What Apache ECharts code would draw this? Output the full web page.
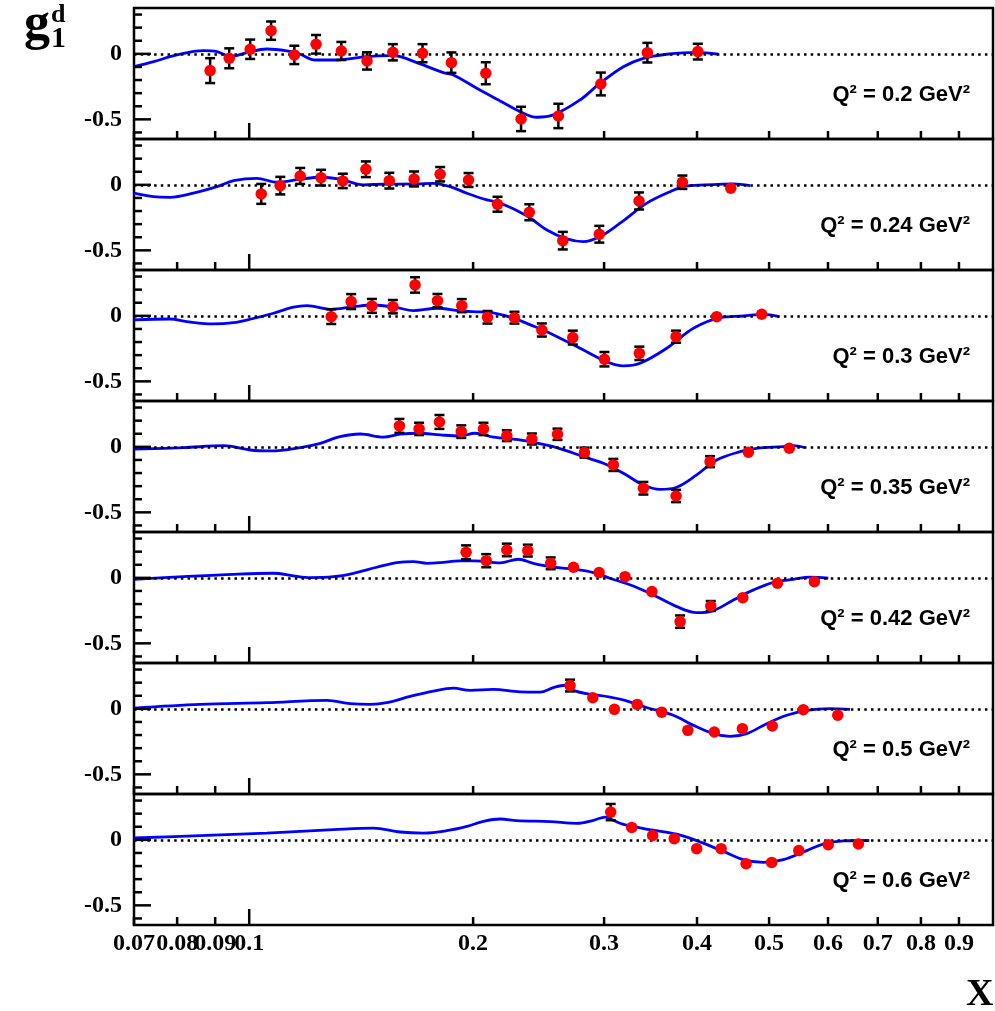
<!DOCTYPE html>
<html>
<head>
<meta charset="utf-8">
<script src="https://cdn.jsdelivr.net/npm/echarts@6/dist/echarts.min.js"></script>
<style>
html,body{margin:0;padding:0;background:#fff;}
#chart{width:995px;height:1011px;}
</style>
</head>
<body>
<div id="chart"></div>
<script>
// ---------- axis / tick definitions ----------
const X_MIN = 0.07, X_MAX = 1.0, Y_MIN = -0.65, Y_MAX = 0.35;
const X_TICKS = [0.07, 0.08, 0.09, 0.1, 0.2, 0.3, 0.4, 0.5, 0.6, 0.7, 0.8, 0.9];
const X_TICK_LABELS = ['0.07', '0.08', '0.09', '0.1', '0.2', '0.3', '0.4', '0.5', '0.6', '0.7', '0.8', '0.9'];
const X_MAJOR = [0.1];
const Y_TICKS = [-0.6, -0.5, -0.4, -0.3, -0.2, -0.1, 0, 0.1, 0.2, 0.3];
const Y_MAJOR = [0, -0.5];
const Q2_LABELS = ['0.2', '0.24', '0.3', '0.35', '0.42', '0.5', '0.6'];

// ---------- panel 1 : Q2 = 0.2 ----------
const p1X = [0.0886, 0.0940, 0.1003, 0.1070, 0.1150, 0.1230, 0.1330, 0.1440, 0.1560, 0.1710, 0.1870, 0.2080, 0.2320, 0.2604, 0.2970, 0.3430, 0.4010];
const p1Y = [-0.128, -0.034, 0.035, 0.177, -0.008, 0.073, 0.022, -0.054, 0.012, 0.005, -0.067, -0.148, -0.497, -0.474, -0.230, 0.009, 0.017];
const p1E = [0.095, 0.076, 0.074, 0.070, 0.070, 0.071, 0.069, 0.066, 0.062, 0.069, 0.078, 0.084, 0.093, 0.093, 0.087, 0.075, 0.060];
const c1X = [0.07, 0.0744, 0.0799, 0.0868, 0.0905, 0.0943, 0.0993, 0.1056, 0.1124, 0.1171, 0.1227, 0.1312, 0.1439, 0.1547, 0.1596, 0.1698, 0.1824, 0.1882, 0.2023, 0.2175, 0.2313, 0.2435, 0.2564, 0.2785, 0.2963, 0.3185, 0.3388, 0.3642, 0.3996, 0.4272];
const c1Y = [-0.097, -0.060, -0.008, 0.024, 0.017, -0.021, 0.009, 0.037, 0.022, -0.003, -0.047, -0.047, -0.021, -0.014, -0.021, -0.077, -0.143, -0.161, -0.263, -0.360, -0.441, -0.484, -0.466, -0.352, -0.224, -0.098, -0.034, -0.003, 0.012, -0.003];

// ---------- panel 2 : Q2 = 0.24 ----------
const p2X = [0.1038, 0.1101, 0.1171, 0.1249, 0.1336, 0.1435, 0.1543, 0.1666, 0.1806, 0.1972, 0.2157, 0.2380, 0.2640, 0.2956, 0.3343, 0.3823, 0.4441];
const p2Y = [-0.069, -0.006, 0.068, 0.055, 0.030, 0.119, 0.032, 0.045, 0.081, 0.037, -0.148, -0.209, -0.426, -0.377, -0.123, 0.020, -0.026];
const p2E = [0.076, 0.067, 0.061, 0.060, 0.055, 0.060, 0.060, 0.057, 0.055, 0.053, 0.057, 0.061, 0.067, 0.064, 0.065, 0.051, 0];
const c2X = [0.07, 0.0744, 0.0783, 0.0841, 0.0905, 0.0953, 0.1024, 0.1089, 0.1171, 0.1246, 0.1325, 0.1424, 0.1515, 0.1680, 0.1769, 0.1863, 0.1962, 0.2087, 0.2175, 0.2361, 0.2513, 0.2674, 0.2813, 0.2963, 0.3152, 0.3424, 0.3680, 0.3876, 0.4208, 0.4477, 0.4715];
const c2Y = [-0.064, -0.090, -0.095, -0.064, -0.014, 0.032, 0.050, 0.020, 0.043, 0.058, 0.043, 0.000, 0.005, 0.007, 0.012, -0.014, -0.064, -0.115, -0.138, -0.236, -0.344, -0.413, -0.434, -0.395, -0.293, -0.140, -0.052, -0.008, 0.002, 0.007, -0.006];

// ---------- panel 3 : Q2 = 0.3 ----------
const p3X = [0.1289, 0.1371, 0.1462, 0.1560, 0.1671, 0.1791, 0.1931, 0.2091, 0.2273, 0.2474, 0.2723, 0.3003, 0.3346, 0.3749, 0.4251, 0.4887];
const p3Y = [-0.006, 0.109, 0.076, 0.070, 0.236, 0.116, 0.078, -0.011, -0.014, -0.108, -0.166, -0.331, -0.286, -0.159, -0.006, 0.012];
const p3E = [0.056, 0.057, 0.053, 0.051, 0.059, 0.051, 0.050, 0.048, 0.045, 0.050, 0.053, 0.055, 0.051, 0.046, 0, 0];
const c3X = [0.07, 0.0783, 0.0824, 0.0895, 0.0953, 0.1003, 0.1078, 0.1147, 0.1196, 0.1285, 0.1381, 0.1469, 0.1579, 0.1662, 0.1788, 0.1921, 0.2044, 0.2121, 0.2266, 0.2389, 0.2513, 0.2785, 0.3025, 0.3185, 0.3353, 0.3642, 0.3956, 0.4296, 0.4618, 0.4912, 0.5160];
const c3Y = [-0.031, -0.024, -0.044, -0.062, -0.052, -0.026, 0.020, 0.066, 0.078, 0.050, 0.070, 0.083, 0.063, 0.040, 0.058, 0.037, 0.030, 0.024, -0.018, -0.069, -0.121, -0.247, -0.350, -0.382, -0.362, -0.247, -0.095, -0.014, -0.001, 0.012, -0.006];

// ---------- panel 4 : Q2 = 0.35 ----------
const p4X = [0.1592, 0.1692, 0.1802, 0.1928, 0.2065, 0.2220, 0.2399, 0.2597, 0.2823, 0.3087, 0.3388, 0.3749, 0.4165, 0.4690, 0.5323];
const p4Y = [0.160, 0.137, 0.190, 0.116, 0.137, 0.085, 0.060, 0.096, -0.044, -0.138, -0.316, -0.375, -0.113, -0.041, -0.011];
const p4E = [0.053, 0.047, 0.053, 0.048, 0.047, 0.041, 0.042, 0.043, 0.038, 0.046, 0.048, 0.047, 0.042, 0, 0];
const c4X = [0.07, 0.0816, 0.0924, 0.1003, 0.1067, 0.1171, 0.1246, 0.1325, 0.1410, 0.1515, 0.1596, 0.1690, 0.1806, 0.1921, 0.2012, 0.2130, 0.2320, 0.2539, 0.2674, 0.2813, 0.2994, 0.3185, 0.3388, 0.3567, 0.3757, 0.3996, 0.4251, 0.4570, 0.4813, 0.5225, 0.5390, 0.5587];
const c4Y = [-0.018, -0.006, 0.009, -0.024, -0.031, -0.006, 0.027, 0.078, 0.098, 0.075, 0.097, 0.104, 0.091, 0.083, 0.104, 0.074, 0.052, 0.007, -0.031, -0.075, -0.125, -0.202, -0.291, -0.324, -0.308, -0.214, -0.100, -0.037, -0.011, 0.002, 0.009, -0.006];

// ---------- panel 5 : Q2 = 0.42 ----------
const p5X = [0.1957, 0.2083, 0.2220, 0.2369, 0.2543, 0.2729, 0.2954, 0.3201, 0.3478, 0.3796, 0.4174, 0.4609, 0.5131, 0.5752];
const p5Y = [0.195, 0.131, 0.213, 0.208, 0.111, 0.081, 0.040, 0.009, -0.105, -0.334, -0.215, -0.151, -0.041, -0.029];
const p5E = [0.053, 0.050, 0.048, 0.045, 0.045, 0, 0, 0, 0, 0.047, 0.038, 0, 0, 0];
const c5X = [0.07, 0.0816, 0.0953, 0.1078, 0.1147, 0.1208, 0.1298, 0.1381, 0.1484, 0.1579, 0.1662, 0.1733, 0.1806, 0.1921, 0.2012, 0.2175, 0.2300, 0.2410, 0.2539, 0.2729, 0.2903, 0.3055, 0.3284, 0.3495, 0.3757, 0.3996, 0.4208, 0.4477, 0.4765, 0.5068, 0.5390, 0.5675, 0.6005];
const c5Y = [-0.011, 0.009, 0.027, 0.035, 0.015, 0.002, 0.009, 0.035, 0.081, 0.116, 0.124, 0.111, 0.116, 0.130, 0.130, 0.115, 0.142, 0.111, 0.085, 0.066, 0.040, -0.003, -0.062, -0.131, -0.220, -0.266, -0.250, -0.169, -0.092, -0.034, -0.011, 0.005, -0.003];

// ---------- panel 6 : Q2 = 0.5 ----------
const p6X = [0.2700, 0.2897, 0.3097, 0.3324, 0.3586, 0.3888, 0.4220, 0.4603, 0.5050, 0.5559, 0.6184];
const p6Y = [0.178, 0.085, -0.004, 0.034, -0.025, -0.164, -0.177, -0.151, -0.131, -0.006, -0.049];
const p6E = [0.045, 0, 0, 0, 0, 0, 0, 0, 0, 0, 0];
const c6X = [0.07, 0.0859, 0.1056, 0.1272, 0.1367, 0.1454, 0.1531, 0.1646, 0.1769, 0.1882, 0.1982, 0.2130, 0.2313, 0.2461, 0.2564, 0.2660, 0.2729, 0.2843, 0.3055, 0.3201, 0.3405, 0.3717, 0.3956, 0.4208, 0.4431, 0.4667, 0.4963, 0.5281, 0.5619, 0.6037, 0.6424];
const c6Y = [0.006, 0.034, 0.047, 0.065, 0.040, 0.034, 0.047, 0.095, 0.136, 0.158, 0.141, 0.148, 0.130, 0.128, 0.162, 0.180, 0.141, 0.116, 0.090, 0.065, 0.014, -0.049, -0.126, -0.189, -0.210, -0.189, -0.113, -0.049, -0.011, 0.001, -0.004];

// ---------- panel 7 : Q2 = 0.6 ----------
const p7X = [0.3062, 0.3268, 0.3487, 0.3728, 0.3996, 0.4310, 0.4656, 0.5040, 0.5481, 0.6005, 0.6592];
const p7Y = [0.212, 0.095, 0.034, 0.009, -0.067, -0.067, -0.182, -0.172, -0.082, -0.037, -0.032];
const p7E = [0.062, 0, 0, 0, 0, 0, 0, 0, 0, 0, 0];
const c7X = [0.07, 0.0859, 0.1056, 0.1298, 0.1469, 0.1596, 0.1715, 0.1843, 0.1962, 0.2065, 0.2175, 0.2290, 0.2539, 0.2758, 0.2903, 0.3010, 0.3089, 0.3185, 0.3459, 0.3757, 0.3996, 0.4340, 0.4618, 0.4912, 0.5225, 0.5619, 0.5912, 0.6291, 0.6818];
const c7Y = [0.014, 0.032, 0.052, 0.078, 0.090, 0.060, 0.052, 0.070, 0.103, 0.141, 0.159, 0.147, 0.139, 0.126, 0.149, 0.174, 0.149, 0.118, 0.078, 0.044, -0.006, -0.088, -0.151, -0.172, -0.151, -0.082, -0.032, -0.008, -0.005];

// ---------- build ----------
const PANELS = [
  [p1X, p1Y, p1E, c1X, c1Y], [p2X, p2Y, p2E, c2X, c2Y], [p3X, p3Y, p3E, c3X, c3Y],
  [p4X, p4Y, p4E, c4X, c4Y], [p5X, p5Y, p5E, c5X, c5Y], [p6X, p6Y, p6E, c6X, c6Y],
  [p7X, p7Y, p7E, c7X, c7Y]
];
const zip = (a, b) => a.map((v, i) => [v, b[i]]);

const TOP0 = 8, PH = 131, LEFT = 134, RIGHT = 2;
const SERIF = '"Liberation Serif", "Times New Roman", serif';
const SANS = '"Liberation Sans", Arial, sans-serif';
const BLACK = '#000000';

const grids = [], xAxes = [], yAxes = [], series = [], graphics = [];

PANELS.forEach((P, i) => {
  const [px, py, pe, cx, cy] = P;
  const top = TOP0 + i * PH;
  grids.push({ left: LEFT, right: RIGHT, top: top, height: PH, show: true,
    borderColor: BLACK, borderWidth: 2.5, backgroundColor: 'transparent', containLabel: false });
  xAxes.push({ type: 'log', logBase: 10, gridIndex: i, min: X_MIN, max: X_MAX,
    axisLine: { show: false }, axisTick: { show: false }, axisLabel: { show: false }, splitLine: { show: false } });
  yAxes.push({ type: 'value', gridIndex: i, min: Y_MIN, max: Y_MAX, splitNumber: 10,
    axisLine: { show: false }, axisTick: { show: false }, splitLine: { show: false },
    axisLabel: { show: true, margin: 12, color: BLACK, fontFamily: SERIF, fontWeight: 'bold', fontSize: 24,
      showMinLabel: false, showMaxLabel: false,
      formatter: v => (Math.abs(v) < 1e-6 ? '0' : (Math.abs(v + 0.5) < 1e-6 ? '-0.5' : '')) } });

  // theory curve + dotted zero line
  series.push({ type: 'line', xAxisIndex: i, yAxisIndex: i, data: zip(cx, cy), smooth: 0.35,
    showSymbol: false, symbol: 'none', z: 3, silent: true,
    lineStyle: { color: '#0000ff', width: 2.8, opacity: 1 },
    markLine: { silent: true, symbol: ['none', 'none'], label: { show: false },
      lineStyle: { color: BLACK, type: [2.5, 4.2], width: 2.5, opacity: 1 }, data: [{ yAxis: 0 }], animation: false } });

  // error bars
  series.push({ type: 'custom', xAxisIndex: i, yAxisIndex: i, z: 4, silent: true, clip: false,
    data: px.map((v, k) => [v, py[k], pe[k]]),
    renderItem: (params, api) => {
      const x = api.value(0), y = api.value(1), e = api.value(2);
      if (!e) return { type: 'group', children: [] };
      const t = api.coord([x, y + e]), b = api.coord([x, y - e]);
      const st = { stroke: BLACK, lineWidth: 2.5 };
      return { type: 'group', children: [
        { type: 'line', shape: { x1: t[0], y1: t[1], x2: b[0], y2: b[1] }, style: st },
        { type: 'line', shape: { x1: t[0] - 5, y1: t[1], x2: t[0] + 5, y2: t[1] }, style: st },
        { type: 'line', shape: { x1: b[0] - 5, y1: b[1], x2: b[0] + 5, y2: b[1] }, style: st }
      ] };
    } });

  // data points
  series.push({ type: 'scatter', xAxisIndex: i, yAxisIndex: i, z: 5, silent: true,
    data: zip(px, py), symbol: 'circle', symbolSize: 11.5, itemStyle: { color: '#ff0000', opacity: 1 } });

  // x ticks (from bottom edge, pointing up)
  series.push({ type: 'custom', xAxisIndex: i, yAxisIndex: i, z: 6, silent: true, clip: false,
    data: X_TICKS.map(v => [v, Y_MIN, X_MAJOR.indexOf(v) >= 0 ? 1 : 0]),
    renderItem: (params, api) => {
      const p = api.coord([api.value(0), api.value(1)]);
      const len = api.value(2) ? 16 : 8;
      return { type: 'line', shape: { x1: p[0], y1: p[1], x2: p[0], y2: p[1] - len },
        style: { stroke: BLACK, lineWidth: 2.5 } };
    } });

  // y ticks (from left edge, pointing right)
  series.push({ type: 'custom', xAxisIndex: i, yAxisIndex: i, z: 6, silent: true, clip: false,
    data: Y_TICKS.map(v => [X_MIN, v, Y_MAJOR.indexOf(v) >= 0 ? 1 : 0]),
    renderItem: (params, api) => {
      const p = api.coord([api.value(0), api.value(1)]);
      const len = api.value(2) ? 17 : 8;
      return { type: 'line', shape: { x1: p[0], y1: p[1], x2: p[0] + len, y2: p[1] },
        style: { stroke: BLACK, lineWidth: 2.5 } };
    } });

  graphics.push({ type: 'text', right: 25, top: top + 76, silent: true,
    style: { text: 'Q\u00B2 = ' + Q2_LABELS[i] + ' GeV\u00B2', font: 'bold 22px ' + SANS, fill: BLACK } });
});

// x tick labels under the bottom panel
const last = PANELS.length - 1;
series.push({ type: 'custom', xAxisIndex: last, yAxisIndex: last, z: 6, silent: true, clip: false,
  data: X_TICKS.map(v => [v, Y_MIN]),
  renderItem: (params, api) => {
    const p = api.coord([api.value(0), api.value(1)]);
    return { type: 'text', x: p[0], y: p[1] + 19,
      style: { text: X_TICK_LABELS[params.dataIndex], textAlign: 'center', textVerticalAlign: 'middle',
        font: 'bold 24px ' + SERIF, fill: BLACK } };
  } });

// axis titles
graphics.push({ type: 'text', left: 966, top: 976, silent: true,
  style: { text: 'X', font: 'bold 38px ' + SERIF, fill: BLACK } });
graphics.push({ type: 'text', left: 24, top: 0, silent: true,
  style: { text: 'g', font: 'bold 52px ' + SERIF, fill: BLACK } });
graphics.push({ type: 'text', left: 51, top: 2, silent: true,
  style: { text: 'd', font: 'bold 26px ' + SERIF, fill: BLACK } });
graphics.push({ type: 'text', left: 51, top: 24, silent: true,
  style: { text: '1', font: 'bold 30px ' + SERIF, fill: BLACK } });

const chart = echarts.init(document.getElementById('chart'), null, { renderer: 'canvas' });
chart.setOption({
  animation: false,
  backgroundColor: '#ffffff',
  grid: grids, xAxis: xAxes, yAxis: yAxes, series: series, graphic: graphics
});
</script>
</body>
</html>
